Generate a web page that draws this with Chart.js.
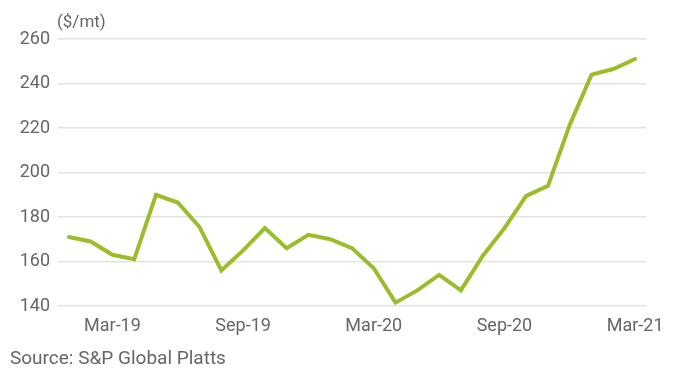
<!DOCTYPE html>
<html>
<head>
<meta charset="utf-8">
<script src="https://cdn.jsdelivr.net/npm/chart.js@4/dist/chart.umd.min.js"></script>
<style>
  html, body { margin: 0; padding: 0; background: #fff; }
  #wrap { width: 680px; height: 378px; position: relative; }
</style>
</head>
<body>
<div id="wrap"><canvas id="c" width="680" height="378"></canvas></div>
<script>
const months = ["Jan-19","Feb-19","Mar-19","Apr-19","May-19","Jun-19","Jul-19","Aug-19","Sep-19","Oct-19","Nov-19","Dec-19",
                "Jan-20","Feb-20","Mar-20","Apr-20","May-20","Jun-20","Jul-20","Aug-20","Sep-20","Oct-20","Nov-20","Dec-20",
                "Jan-21","Feb-21","Mar-21"];
const prices = [171, 169, 163, 161, 190, 186.5, 175.5, 156, 165, 175, 166, 172,
                170, 166, 157, 141.5, 147, 154, 147, 162.5, 175, 189.5, 194,
                221.5, 244, 246.5, 251];
const shownTicks = ["Mar-19","Sep-19","Mar-20","Sep-20","Mar-21"];
const yTicks = [140, 160, 180, 200, 220, 240, 260];
const unitLabel = "($/mt)";
const sourceLabel = "Source: S&P Global Platts";

const FONT = "Roboto, 'Open Sans', sans-serif";
const textColor = "#666666";

const extraText = {
  id: 'extraText',
  afterDraw(chart) {
    const ctx = chart.ctx;
    const a = chart.chartArea;
    ctx.save();
    ctx.fillStyle = textColor;
    ctx.textBaseline = 'alphabetic';
    ctx.textAlign = 'left';
    ctx.font = "17px " + FONT;
    ctx.fillText(unitLabel, a.left - 1, a.top - 12);
    ctx.font = "19px " + FONT;
    ctx.fillText(sourceLabel, 10, 364);
    ctx.restore();
  }
};

new Chart(document.getElementById('c'), {
  type: 'line',
  data: {
    labels: months,
    datasets: [{
      data: prices,
      borderColor: '#9bbd2b',
      borderWidth: 4,
      pointRadius: 0,
      tension: 0,
      fill: false,
      borderJoinStyle: 'miter',
      borderCapStyle: 'round'
    }]
  },
  options: {
    responsive: false,
    animation: false,
    devicePixelRatio: 1,
    layout: { padding: { top: 39, right: 34, bottom: 0, left: 0 } },
    plugins: { legend: { display: false }, tooltip: { enabled: false } },
    scales: {
      x: {
        offset: true,
        grid: { display: false, drawTicks: false },
        border: { display: false },
        afterFit(scale) { scale.height = 72; },
        ticks: {
          autoSkip: false,
          maxRotation: 0,
          padding: 10,
          color: textColor,
          font: { family: FONT, size: 18 },
          callback(v, i) { const l = months[i]; return shownTicks.includes(l) ? l : null; }
        }
      },
      y: {
        min: yTicks[0],
        max: yTicks[yTicks.length - 1],
        afterFit(scale) { scale.width = 58; },
        afterBuildTicks(scale) { scale.ticks = yTicks.map(v => ({ value: v })); },
        grid: { color: '#e3e3e3', lineWidth: 1.5, drawTicks: false },
        border: { display: false },
        ticks: {
          padding: 8,
          color: textColor,
          font: { family: FONT, size: 18 }
        }
      }
    }
  },
  plugins: [extraText]
});
</script>
</body>
</html>
